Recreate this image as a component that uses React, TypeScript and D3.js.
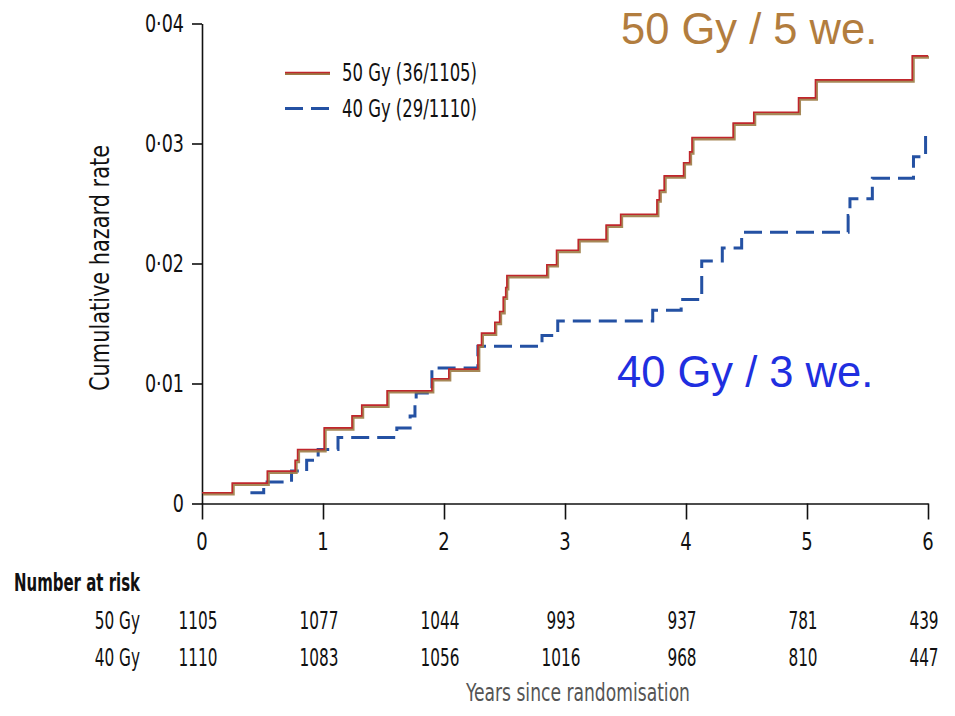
import React, { useEffect, useRef } from "react";
import * as d3 from "d3";

// Cumulative hazard, 50 Gy arm (years since randomisation → rate)
const years50 = [0, 0.25, 0.54, 0.77, 0.79, 1.01, 1.24, 1.32, 1.53, 1.9, 2.04, 2.28, 2.31, 2.42, 2.46, 2.49, 2.51, 2.52, 2.85, 2.93, 3.11, 3.34, 3.46, 3.76, 3.78, 3.82, 3.98, 4.03, 4.05, 4.39, 4.56, 4.93, 5.07, 5.87];
const hazard50 = [0.0009, 0.0017, 0.0027, 0.0036, 0.0045, 0.0063, 0.0073, 0.0082, 0.0094, 0.0104, 0.0112, 0.0132, 0.0142, 0.0151, 0.016, 0.0172, 0.018, 0.019, 0.0199, 0.0211, 0.022, 0.0232, 0.0241, 0.0253, 0.0261, 0.0273, 0.0284, 0.0293, 0.0305, 0.0317, 0.0326, 0.0338, 0.0353, 0.0373];

// Cumulative hazard, 40 Gy arm
const years40 = [0.4, 0.51, 0.74, 0.865, 0.96, 1.124, 1.61, 1.72, 1.76, 1.77, 1.9, 2.28, 2.81, 2.94, 3.725, 3.96, 4.13, 4.3, 4.46, 5.34, 5.355, 5.54, 5.88, 5.98];
const hazard40 = [0.0009, 0.0018, 0.0027, 0.0036, 0.0045, 0.0055, 0.0063, 0.0073, 0.0083, 0.0092, 0.0113, 0.0131, 0.014, 0.0152, 0.0161, 0.017, 0.0202, 0.0213, 0.0226, 0.024, 0.0254, 0.0271, 0.0289, 0.031];

const followUpEnd = 6;
const xTicks = [0, 1, 2, 3, 4, 5, 6];
const yTicks = [0, 0.01, 0.02, 0.03, 0.04];

const legendLabels = ["50 Gy (36/1105)", "40 Gy (29/1110)"];
const armLabels = ["50 Gy", "40 Gy"];
const atRisk50 = [1105, 1077, 1044, 993, 937, 781, 439];
const atRisk40 = [1110, 1083, 1056, 1016, 968, 810, 447];
const annotations = ["50 Gy / 5 we.", "40 Gy / 3 we."];

const NARROW = "'Liberation Sans Narrow','DejaVu Sans Condensed','Roboto Condensed',sans-serif";
const WIDE = "'Liberation Sans',Arial,sans-serif";
const RED = "#c0262c";
const BROWN = "#9c7b45";
const BLUE = "#2451a3";

type Pt = { t: number; h: number };
type Sel = d3.Selection<any, unknown, null, undefined>;

function toSeries(ts: number[], hs: number[]): Pt[] {
  const pts = ts.map((t, i) => ({ t, h: hs[i] }));
  pts.push({ t: followUpEnd, h: hs[hs.length - 1] });
  return pts;
}

// Condensed label: horizontally squeezed glyphs at a given anchor point
function label(
  g: Sel,
  x: number,
  y: number,
  txt: string,
  o: { size?: number; sx?: number; anchor?: string; fill?: string; weight?: string; family?: string } = {}
) {
  return g
    .append("text")
    .attr("transform", `translate(${x},${y}) scale(${o.sx ?? 1},1)`)
    .attr("dy", "0.35em")
    .attr("text-anchor", o.anchor ?? "start")
    .style("font-family", o.family ?? NARROW)
    .style("font-size", `${o.size ?? 22}px`)
    .style("font-weight", o.weight ?? "normal")
    .attr("fill", o.fill ?? "#111")
    .text(txt);
}

export default function App() {
  const ref = useRef<SVGSVGElement>(null);

  useEffect(() => {
    const svg = d3.select(ref.current) as Sel;
    svg.selectAll("*").remove();

    const x = d3.scaleLinear().domain([0, 6]).range([202, 928]);
    const y = d3.scaleLinear().domain([0, 0.04]).range([503.5, 23.5]);

    const line = d3
      .line<Pt>()
      .x((d) => x(d.t))
      .y((d) => y(d.h))
      .curve(d3.curveStepAfter);

    // Axis lines and ticks
    const yAxis = svg
      .append("g")
      .attr("transform", `translate(${x(0)},0)`)
      .call(d3.axisLeft(y).tickValues(yTicks).tickSize(10).tickSizeOuter(0).tickFormat(() => ""));
    const xAxis = svg
      .append("g")
      .attr("transform", `translate(0,${y(0)})`)
      .call(d3.axisBottom(x).tickValues(xTicks).tickSize(16).tickSizeOuter(0).tickFormat(() => ""));
    [yAxis, xAxis].forEach((g) => {
      g.selectAll("path,line").attr("stroke", "#111").attr("stroke-width", 1.6);
    });

    // Tick labels
    const fmtY = (d: number) => (d === 0 ? "0" : d3.format(".2f")(d).replace(".", "·"));
    yTicks.forEach((v) => label(svg, 184, y(v), fmtY(v), { size: 25, sx: 0.78, anchor: "end" }));
    xTicks.forEach((v) => label(svg, x(v), 541, String(v), { size: 25, sx: 0.8, anchor: "middle" }));

    // 40 Gy arm: dashed blue
    svg
      .append("path")
      .attr("d", line(toSeries(years40, hazard40)))
      .attr("fill", "none")
      .attr("stroke", BLUE)
      .attr("stroke-width", 3)
      .attr("stroke-dasharray", "18,8");

    // 50 Gy arm: khaki under-stroke with red line on top
    const s50 = toSeries(years50, hazard50);
    svg
      .append("path")
      .attr("d", line(s50))
      .attr("transform", "translate(1,1.4)")
      .attr("fill", "none")
      .attr("stroke", BROWN)
      .attr("stroke-opacity", 0.9)
      .attr("stroke-width", 3);
    svg
      .append("path")
      .attr("d", line(s50))
      .attr("fill", "none")
      .attr("stroke", RED)
      .attr("stroke-width", 1.6);

    // Legend
    const lg = svg.append("g");
    lg.append("line").attr("x1", 285).attr("x2", 330).attr("y1", 73.8).attr("y2", 73.8).attr("stroke", BROWN).attr("stroke-width", 2.4);
    lg.append("line").attr("x1", 285).attr("x2", 330).attr("y1", 72.5).attr("y2", 72.5).attr("stroke", RED).attr("stroke-width", 1.6);
    lg.append("line").attr("x1", 285).attr("x2", 330).attr("y1", 108.5).attr("y2", 108.5).attr("stroke", BLUE).attr("stroke-width", 3).attr("stroke-dasharray", "18,8");
    legendLabels.forEach((lab, i) => {
      lg.append("text")
        .attr("x", 342)
        .attr("y", 72 + i * 36)
        .attr("dy", "0.35em")
        .attr("textLength", 135)
        .attr("lengthAdjust", "spacingAndGlyphs")
        .style("font-family", NARROW)
        .style("font-size", "25px")
        .attr("fill", "#111")
        .text(lab);
    });

    // Y-axis title
    svg
      .append("text")
      .attr("transform", `translate(109,268) rotate(-90)`)
      .attr("text-anchor", "middle")
      .attr("textLength", 246)
      .attr("lengthAdjust", "spacingAndGlyphs")
      .style("font-family", NARROW)
      .style("font-size", "26px")
      .attr("fill", "#111")
      .text("Cumulative hazard rate");

    // Arm annotations
    svg
      .append("text")
      .attr("x", 621)
      .attr("y", 44)
      .style("font-family", WIDE)
      .style("font-size", "43.5px")
      .attr("fill", "#b27d3e")
      .text(annotations[0]);
    svg
      .append("text")
      .attr("x", 617)
      .attr("y", 387)
      .style("font-family", WIDE)
      .style("font-size", "43.5px")
      .attr("fill", "#1f2fe0")
      .text(annotations[1]);

    // Number at risk table
    svg
      .append("text")
      .attr("x", 14)
      .attr("y", 582)
      .attr("dy", "0.35em")
      .attr("textLength", 126)
      .attr("lengthAdjust", "spacingAndGlyphs")
      .style("font-family", NARROW)
      .style("font-size", "25px")
      .style("font-weight", "bold")
      .attr("fill", "#111")
      .text("Number at risk");

    [atRisk50, atRisk40].forEach((row, r) => {
      const cy = 620 + r * 37;
      label(svg, 140, cy, armLabels[r], { size: 25, sx: 0.68, anchor: "end" });
      row.forEach((n, i) => {
        label(svg, x(xTicks[i]) - 4, cy, String(n), { size: 25, sx: 0.68, anchor: "middle" });
      });
    });

    // X-axis title
    svg
      .append("text")
      .attr("x", 578)
      .attr("y", 693)
      .attr("dy", "0.35em")
      .attr("text-anchor", "middle")
      .attr("textLength", 224)
      .attr("lengthAdjust", "spacingAndGlyphs")
      .style("font-family", NARROW)
      .style("font-size", "24px")
      .attr("fill", "#555")
      .text("Years since randomisation");
  }, []);

  return (
    <svg
      ref={ref}
      width={955}
      height={716}
      style={{ position: "absolute", left: 0, top: 0, background: "#fff" }}
    />
  );
}
